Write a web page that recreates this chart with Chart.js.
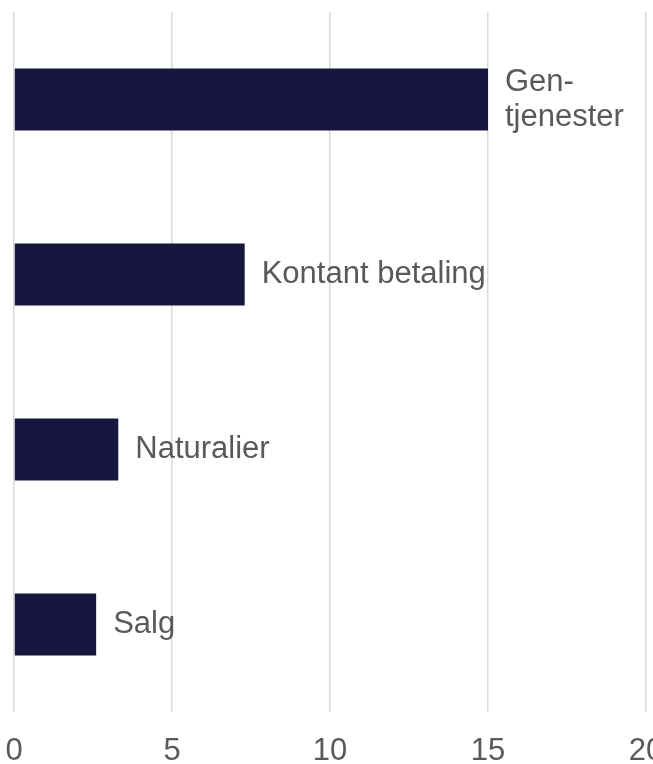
<!DOCTYPE html>
<html>
<head>
<meta charset="utf-8">
<script src="https://cdn.jsdelivr.net/npm/chart.js@4/dist/chart.umd.min.js"></script>
<style>
  html, body { margin: 0; padding: 0; background: #ffffff; overflow: hidden; }
  #wrap { position: absolute; left: 0; top: 0; width: 676px; height: 764px; }
</style>
</head>
<body>
<div id="wrap"><canvas id="c" width="676" height="764"></canvas></div>
<script>
const categories = [["Gen-", "tjenester"], "Kontant betaling", "Naturalier", "Salg"];
const values = [15.0, 7.3, 3.3, 2.6];
const xTicks = [0, 5, 10, 15, 20];

const FONT = "'Liberation Sans', Arial, sans-serif";
const TEXT = "#595959";

const barLabels = {
  id: 'barLabels',
  afterDatasetsDraw(chart) {
    const ctx = chart.ctx;
    const meta = chart.getDatasetMeta(0);
    ctx.save();
    ctx.fillStyle = TEXT;
    ctx.font = "31px " + FONT;
    ctx.textAlign = 'left';
    ctx.textBaseline = 'middle';
    meta.data.forEach((el, i) => {
      const lab = chart.data.labels[i];
      const lines = Array.isArray(lab) ? lab : [lab];
      const lh = 35;
      lines.forEach((t, j) => {
        ctx.fillText(t, el.x + 17, el.y + (j - (lines.length - 1) / 2) * lh);
      });
    });
    ctx.restore();
  }
};

new Chart(document.getElementById('c'), {
  type: 'bar',
  data: {
    labels: categories,
    datasets: [{
      data: values,
      backgroundColor: '#16163e',
      borderWidth: 0,
      barPercentage: 0.3545,
      categoryPercentage: 1.0
    }]
  },
  options: {
    indexAxis: 'y',
    responsive: false,
    animation: false,
    layout: { padding: { left: 14, right: 30, top: 12, bottom: 0 } },
    plugins: { legend: { display: false }, tooltip: { enabled: false } },
    scales: {
      x: {
        min: 0, max: 20,
        afterBuildTicks(scale) { scale.ticks = xTicks.map(v => ({ value: v })); },
        afterFit(scale) {
          scale.height = 52;
          scale.paddingLeft = 0;
          scale.paddingRight = 0;
        },
        grid: { color: '#d9d9d9', lineWidth: 1.5, drawTicks: false },
        border: { display: false },
        ticks: { color: TEXT, font: { family: FONT, size: 31 }, padding: 21, maxRotation: 0 }
      },
      y: {
        display: false
      }
    }
  },
  plugins: [barLabels]
});
</script>
</body>
</html>
